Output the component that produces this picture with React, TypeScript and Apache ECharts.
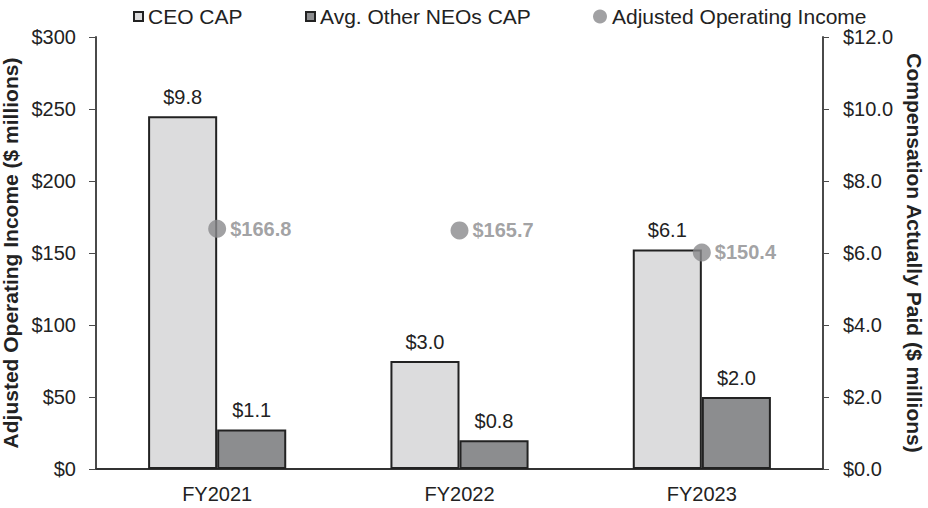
import React, { useEffect, useRef } from "react";
import * as echarts from "echarts";

const categories = ["FY2021", "FY2022", "FY2023"];
const ceoCap = [9.8, 3.0, 6.1];
const neoCap = [1.1, 0.8, 2.0];
const adjOpIncome = [166.8, 165.7, 150.4];

const FONT = "Liberation Sans, Arial, sans-serif";

export default function App() {
  const ref = useRef<HTMLDivElement>(null);
  useEffect(() => {
    const chart = echarts.init(ref.current!, null, { renderer: "svg" });
    const axisLine = { show: true, lineStyle: { color: "#4a4a4a", width: 2 } };
    const legendText = { fontSize: 21, color: "#222", fontFamily: FONT };
    chart.setOption({
      animation: false,
      textStyle: { fontFamily: FONT },
      legend: [
        {
          left: 128, top: 1, itemWidth: 9, itemHeight: 9, itemGap: 2,
          textStyle: legendText,
          data: [{ name: "CEO CAP", icon: "rect" }],
        },
        {
          left: 300, top: 1, itemWidth: 9, itemHeight: 9, itemGap: 2,
          textStyle: legendText,
          data: [{ name: "Avg. Other NEOs CAP", icon: "rect" }],
        },
        {
          left: 588, top: 1, itemWidth: 14, itemHeight: 14, itemGap: 2,
          textStyle: legendText,
          data: [{ name: "Adjusted Operating Income", icon: "circle" }],
        },
      ],
      grid: { left: 96, right: 105, top: 37, bottom: 39, containLabel: false, outerBoundsMode: "none" },
      xAxis: {
        type: "category",
        data: categories,
        axisLine: { show: true, lineStyle: { color: "#333", width: 2 } },
        axisTick: { show: false },
        axisLabel: { fontSize: 20, color: "#222", margin: 15, fontFamily: FONT },
      },
      yAxis: [
        {
          type: "value",
          min: 0, max: 300, interval: 50,
          position: "left",
          name: "Adjusted Operating Income ($ millions)",
          nameLocation: "middle",
          nameGap: 74,
          nameTextStyle: { fontSize: 21, fontWeight: "bold", color: "#222", fontFamily: FONT },
          axisLine,
          axisTick: { show: true, length: 7, lineStyle: { color: "#4a4a4a", width: 1 } },
          splitLine: { show: false },
          axisLabel: { fontSize: 20, color: "#222", margin: 20, formatter: (v: number) => "$" + v, fontFamily: FONT },
        },
        {
          type: "value",
          min: 0, max: 12, interval: 2,
          position: "right",
          name: "Compensation Actually Paid ($ millions)",
          nameLocation: "middle",
          nameGap: 81,
          nameRotate: -90,
          nameTextStyle: { fontSize: 21, fontWeight: "bold", color: "#222", fontFamily: FONT },
          axisLine,
          axisTick: { show: true, length: 6, lineStyle: { color: "#4a4a4a", width: 1 } },
          splitLine: { show: false },
          axisLabel: { fontSize: 20, color: "#222", margin: 20, formatter: (v: number) => "$" + v.toFixed(1), fontFamily: FONT },
        },
      ],
      series: [
        {
          name: "CEO CAP",
          type: "bar",
          yAxisIndex: 1,
          data: ceoCap,
          barGap: "0%",
          barCategoryGap: "43%",
          itemStyle: { color: "#dcdcdd", borderColor: "#222", borderWidth: 2 },
          label: { show: true, position: "top", distance: 9, fontSize: 20, color: "#222", formatter: (p: any) => "$" + p.value.toFixed(1), fontFamily: FONT },
        },
        {
          name: "Avg. Other NEOs CAP",
          type: "bar",
          yAxisIndex: 1,
          data: neoCap,
          itemStyle: { color: "#8c8d8f", borderColor: "#222", borderWidth: 2 },
          label: { show: true, position: "top", distance: 9, fontSize: 20, color: "#222", formatter: (p: any) => "$" + p.value.toFixed(1), fontFamily: FONT },
        },
        {
          name: "Adjusted Operating Income",
          type: "scatter",
          yAxisIndex: 0,
          data: adjOpIncome,
          symbolSize: 18,
          z: 5,
          itemStyle: { color: "#8a8a8c" },
          label: { show: true, position: "right", distance: 4, fontSize: 20, fontWeight: "bold", color: "#8a8a8c", formatter: (p: any) => "$" + p.value.toFixed(1), fontFamily: FONT },
        },
      ],
    });
    return () => chart.dispose();
  }, []);
  return <div ref={ref} style={{ width: 928, height: 508, position: "absolute", left: 0, top: 0 }} />;
}
